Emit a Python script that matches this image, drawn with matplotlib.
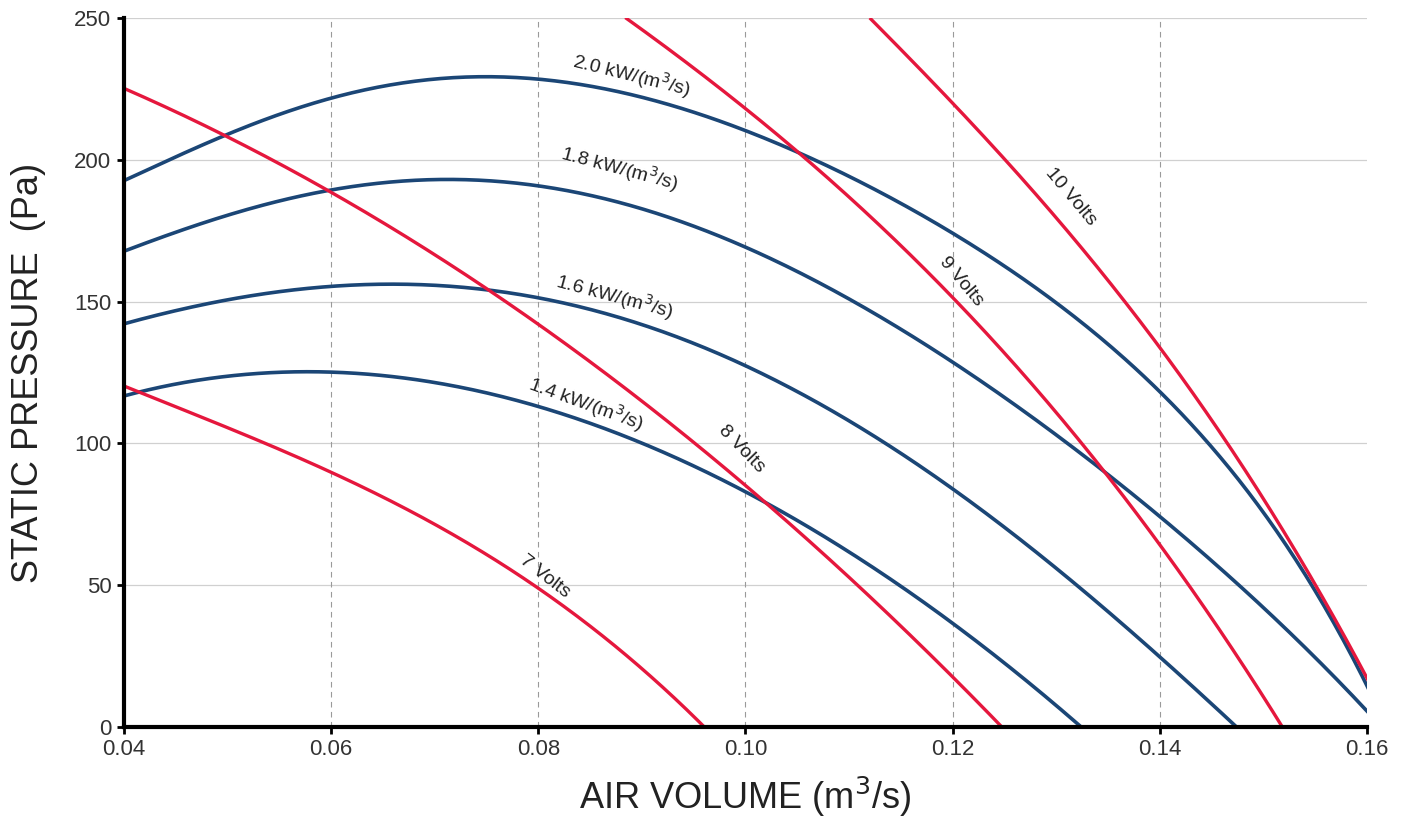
import numpy as np
import matplotlib
matplotlib.use("Agg")
import matplotlib.pyplot as plt

plt.rcParams['font.family'] = ['Liberation Sans Narrow', 'Liberation Sans', 'DejaVu Sans']

# Fan curves: static pressure (Pa) vs air volume (m3/s)
v7_x = [0.040, 0.050, 0.060, 0.070, 0.080, 0.085, 0.090, 0.0958]
v7_y = [120, 106, 90, 71, 48, 36, 22, 0]

v8_x = [0.040, 0.050, 0.060, 0.070, 0.080, 0.090, 0.100, 0.110, 0.120, 0.1242]
v8_y = [225, 208, 189, 167, 142, 114, 84, 54, 20, 0]

v9_x = [0.0884, 0.095, 0.100, 0.1057, 0.110, 0.120, 0.130, 0.140, 0.145, 0.150, 0.1517]
v9_y = [250, 232, 218, 201.7, 188, 150, 109, 66, 40, 10, 0]

v10_x = [0.112, 0.120, 0.130, 0.1365, 0.140, 0.1467, 0.150, 0.155, 0.160]
v10_y = [250, 220, 180, 150, 133, 100, 82, 48, 18]

p20_x = [0.040, 0.050, 0.060, 0.070, 0.075, 0.080, 0.090, 0.100, 0.110, 0.120, 0.130, 0.140, 0.145, 0.150, 0.155, 0.160]
p20_y = [193, 208.5, 221, 228.5, 230, 229.5, 222.5, 209, 193, 174, 150, 121, 100, 73, 45, 17]

p18_x = [0.040, 0.050, 0.060, 0.070, 0.075, 0.080, 0.090, 0.100, 0.110, 0.120, 0.130, 0.140, 0.150, 0.160]
p18_y = [168, 180, 189, 193, 193.5, 192, 181, 169, 151, 129, 103, 75, 41, 6]

p16_x = [0.040, 0.050, 0.060, 0.066, 0.070, 0.080, 0.090, 0.100, 0.110, 0.120, 0.130, 0.140, 0.1472]
p16_y = [142.5, 150, 155, 156.5, 156, 152, 141, 128, 108, 83, 56, 26, 0]

p14_x = [0.040, 0.050, 0.058, 0.060, 0.070, 0.080, 0.090, 0.100, 0.110, 0.120, 0.130, 0.132]
p14_y = [117, 123, 125.5, 125, 122, 113, 100, 83, 61, 37, 9, 0]

red_curves = [(v7_x, v7_y, 3), (v8_x, v8_y, 3), (v9_x, v9_y, 3), (v10_x, v10_y, 3)]
blue_curves = [(p20_x, p20_y, 5), (p18_x, p18_y, 5), (p16_x, p16_y, 4), (p14_x, p14_y, 4)]

# curve labels: text, x, y, angle
labels = [
    ('2.0 kW/(m$^3$/s)', 0.0890, 230, -14),
    ('1.8 kW/(m$^3$/s)', 0.0879, 197, -15),
    ('1.6 kW/(m$^3$/s)', 0.0874, 152, -15),
    ('1.4 kW/(m$^3$/s)', 0.0846, 114, -20),
    ('7 Volts', 0.0806, 53, -38),
    ('8 Volts', 0.0996, 98, -46),
    ('9 Volts', 0.1208, 157, -50),
    ('10 Volts', 0.1314, 187, -50),
]

RED = '#e5173d'
BLUE = '#1b4676'


def fitted(x, y, deg):
    # least-squares polynomial, used only to draw a smooth line through the read points
    c = np.polyfit(x, y, deg)
    xs = np.linspace(x[0], x[-1] + 0.002, 400)
    return xs, np.polyval(c, xs)


fig = plt.figure(figsize=(14.02, 8.25), dpi=100)
ax = fig.add_axes([0.0884, 0.1188, 0.8866, 0.8594])

for cx, cy, d in blue_curves:
    xs, ys = fitted(cx, cy, d)
    ax.plot(xs, ys, color=BLUE, lw=2.6, zorder=3, solid_capstyle='butt')
for cx, cy, d in red_curves:
    xs, ys = fitted(cx, cy, d)
    ax.plot(xs, ys, color=RED, lw=2.4, zorder=4, solid_capstyle='butt')

for txt, lx, ly, ang in labels:
    ax.text(lx, ly, txt, rotation=ang, ha='center', va='center', fontsize=14,
            color='#222222', zorder=5, rotation_mode='anchor')

ax.set_xlim(0.04, 0.16)
ax.set_ylim(0, 250)
ax.set_xticks([0.04, 0.06, 0.08, 0.10, 0.12, 0.14, 0.16])
ax.set_xticklabels(['0.04', '0.06', '0.08', '0.10', '0.12', '0.14', '0.16'])
ax.set_yticks([0, 50, 100, 150, 200, 250])

# grid: solid horizontal, dashed vertical
for yv in [50, 100, 150, 200, 250]:
    ax.axhline(yv, color='#d0d0d0', lw=0.9, zorder=1)
for xv in [0.06, 0.08, 0.10, 0.12, 0.14]:
    ax.axvline(xv, color='#9a9a9a', lw=0.8, ls=(0, (5, 4)), zorder=1)

for s in ['top', 'right']:
    ax.spines[s].set_visible(False)
for s in ['left', 'bottom']:
    ax.spines[s].set_linewidth(3)
    ax.spines[s].set_zorder(6)

ax.tick_params(axis='both', length=5, width=2, color='black', labelsize=16,
               labelcolor='#333333', pad=4)

ax.set_xlabel('AIR VOLUME (m$^3$/s)', fontsize=26, color='#222222', labelpad=10)
ax.set_ylabel('STATIC PRESSURE  (Pa)', fontsize=26, color='#222222', labelpad=20)

fig.savefig('out.png', dpi=100)
